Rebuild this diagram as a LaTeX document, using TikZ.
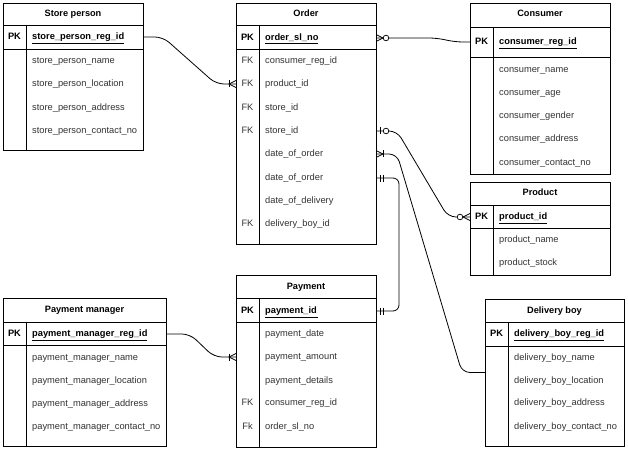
\documentclass[tikz,border=0pt]{standalone}
\usepackage{fontspec}
\setmainfont{Liberation Sans}
\usetikzlibrary{calc}
\tikzset{
  ent/.style={draw, line width=0.8pt, inner sep=0pt, outer sep=0pt, anchor=north west},
  sepl/.style={line width=0.8pt},
  ttl/.style={font=\bfseries\fontsize{9.2}{10}\selectfont, inner sep=0pt, text height=6.5pt, text depth=2pt},
  fld/.style={font=\fontsize{9.3}{10}\selectfont, text=black!80, anchor=west, inner sep=0pt, text height=6.5pt, text depth=1.6pt},
  pkf/.style={fld, font=\bfseries\fontsize{9.3}{10}\selectfont, text=black},
  keyt/.style={font=\fontsize{9.3}{10}\selectfont, text=black!80, inner sep=0pt, text height=6.5pt, text depth=1.6pt},
  pkkey/.style={keyt, font=\bfseries\fontsize{9.3}{10}\selectfont, text=black},
  conn/.style={line width=0.8pt, rounded corners=8pt},
  mk/.style={line width=0.75pt},
  oneMany/.pic={\draw[mk] (0,-3.5)--(7,0)--(0,3.5); \draw[mk] (7,-3.5)--(7,3.5);},
  zeroMany/.pic={\draw[mk] (0,-3.5)--(7,0)--(0,3.5); \draw[mk,fill=white] (10,0) circle[radius=2.8pt];},
  zeroOne/.pic={\draw[mk] (4,-3.5)--(4,3.5); \draw[mk,fill=white] (10,0) circle[radius=2.8pt];},
  mandOne/.pic={\draw[mk] (4,-3.5)--(4,3.5); \draw[mk] (7.5,-3.5)--(7.5,3.5);}
}
\begin{document}
\begin{tikzpicture}[x=1pt,y=-1pt]
\useasboundingbox (0,0) rectangle (628,449);
\fill[white] (0,0) rectangle (628,449);

% ---------- Store person ----------
\node[ent, minimum width=140pt, minimum height=147pt] (sp) at (3,3) {};
\draw[sepl] (3,25) -- (143,25);
\draw[sepl] (3,49) -- (143,49);
\draw[sepl] (26,25) -- (26,150);
\node[ttl] (sp-t) at (73,14) {Store person};
\node[pkkey] (sp-k) at (14.5,37) {PK};
\node[pkf] (sp-pk) at (32,37) {\underline{store\_person\_reg\_id}};
\node[fld] (sp-f1) at (32,61) {store\_person\_name};
\node[fld] (sp-f2) at (32,84) {store\_person\_location};
\node[fld] (sp-f3) at (32,108) {store\_person\_address};
\node[fld] (sp-f4) at (32,131) {store\_person\_contact\_no};

% ---------- Order ----------
\node[ent, minimum width=140pt, minimum height=241pt] (order) at (236,3) {};
\draw[sepl] (236,25) -- (376,25);
\draw[sepl] (236,49) -- (376,49);
\draw[sepl] (259,25) -- (259,244);
\node[ttl] (order-t) at (306,14) {Order};
\node[pkkey] (order-k) at (247.5,38) {PK};
\node[pkf] (order-pk) at (265,38) {\underline{order\_sl\_no}};
\node[keyt] (order-k1) at (247.5,61) {FK};
\node[fld] (order-f1) at (265,61) {consumer\_reg\_id};
\node[keyt] (order-k2) at (247.5,84) {FK};
\node[fld] (order-f2) at (265,84) {product\_id};
\node[keyt] (order-k3) at (247.5,108) {FK};
\node[fld] (order-f3) at (265,108) {store\_id};
\node[keyt] (order-k4) at (247.5,131) {FK};
\node[fld] (order-f4) at (265,131) {store\_id};
\node[fld] (order-f5) at (265,154) {date\_of\_order};
\node[fld] (order-f6) at (265,178) {date\_of\_order};
\node[fld] (order-f7) at (265,201) {date\_of\_delivery};
\node[keyt] (order-k8) at (247.5,224) {FK};
\node[fld] (order-f8) at (265,224) {delivery\_boy\_id};

% ---------- Consumer ----------
\node[ent, minimum width=140pt, minimum height=171pt] (cons) at (470,3) {};
\draw[sepl] (470,27) -- (610,27);
\draw[sepl] (470,57) -- (610,57);
\draw[sepl] (493,27) -- (493,174);
\node[ttl] (cons-t) at (540,14) {Consumer};
\node[pkkey] (cons-k) at (481.5,42) {PK};
\node[pkf] (cons-pk) at (499,42) {\underline{consumer\_reg\_id}};
\node[fld] (cons-f1) at (499,70) {consumer\_name};
\node[fld] (cons-f2) at (499,93) {consumer\_age};
\node[fld] (cons-f3) at (499,116) {consumer\_gender};
\node[fld] (cons-f4) at (499,139) {consumer\_address};
\node[fld] (cons-f5) at (499,163) {consumer\_contact\_no};

% ---------- Product ----------
\node[ent, minimum width=140pt, minimum height=93pt] (prod) at (470,182) {};
\draw[sepl] (470,205) -- (610,205);
\draw[sepl] (470,228) -- (610,228);
\draw[sepl] (493,205) -- (493,275);
\node[ttl] (prod-t) at (540,193) {Product};
\node[pkkey] (prod-k) at (481.5,217) {PK};
\node[pkf] (prod-pk) at (499,217) {\underline{product\_id}};
\node[fld] (prod-f1) at (499,240) {product\_name};
\node[fld] (prod-f2) at (499,263) {product\_stock};

% ---------- Payment manager ----------
\node[ent, minimum width=163pt, minimum height=148pt] (pm) at (3,298) {};
\draw[sepl] (3,322) -- (166,322);
\draw[sepl] (3,345) -- (166,345);
\draw[sepl] (26,322) -- (26,446);
\node[ttl] (pm-t) at (84.5,310) {Payment manager};
\node[pkkey] (pm-k) at (14.5,334) {PK};
\node[pkf] (pm-pk) at (32,334) {\underline{payment\_manager\_reg\_id}};
\node[fld] (pm-f1) at (32,358) {payment\_manager\_name};
\node[fld] (pm-f2) at (32,381) {payment\_manager\_location};
\node[fld] (pm-f3) at (32,404) {payment\_manager\_address};
\node[fld] (pm-f4) at (32,427) {payment\_manager\_contact\_no};

% ---------- Payment ----------
\node[ent, minimum width=140pt, minimum height=172pt] (pay) at (236,275) {};
\draw[sepl] (236,298) -- (376,298);
\draw[sepl] (236,322) -- (376,322);
\draw[sepl] (259,298) -- (259,447);
\node[ttl] (pay-t) at (306,287) {Payment};
\node[pkkey] (pay-k) at (247.5,311) {PK};
\node[pkf] (pay-pk) at (265,311) {\underline{payment\_id\,}};
\node[fld] (pay-f1) at (265,334) {payment\_date};
\node[fld] (pay-f2) at (265,357) {payment\_amount};
\node[fld] (pay-f3) at (265,381) {payment\_details};
\node[keyt] (pay-k4) at (247.5,403) {FK};
\node[fld] (pay-f4) at (265,403) {consumer\_reg\_id};
\node[keyt] (pay-k5) at (247.5,427) {Fk};
\node[fld] (pay-f5) at (265,427) {order\_sl\_no};

% ---------- Delivery boy ----------
\node[ent, minimum width=139pt, minimum height=147pt] (db) at (485,299) {};
\draw[sepl] (485,322) -- (624,322);
\draw[sepl] (485,346) -- (624,346);
\draw[sepl] (508,322) -- (508,446);
\node[ttl] (db-t) at (554.5,311) {Delivery boy};
\node[pkkey] (db-k) at (496.5,334) {PK};
\node[pkf] (db-pk) at (514,334) {\underline{delivery\_boy\_reg\_id}};
\node[fld] (db-f1) at (514,358) {delivery\_boy\_name};
\node[fld] (db-f2) at (514,381) {delivery\_boy\_location};
\node[fld] (db-f3) at (514,403) {delivery\_boy\_address};
\node[fld] (db-f4) at (514,427) {delivery\_boy\_contact\_no};

% ---------- Connectors ----------
\draw[conn] (sp.east |- sp-pk) -- ++(20,0) -- ($(order.west |- order-f2)+(-20,0)$) -- (order.west |- order-f2);
\draw[conn] (order.east |- order-pk) -- ++(61,0) -- ($(cons.west |- cons-pk)+(-15,0)$) -- (cons.west |- cons-pk);
\draw[conn] (order.east |- order-f4) -- ++(21,0) -- ($(prod.west |- prod-pk)+(-22,0)$) -- (prod.west |- prod-pk);
\draw[conn] (order.east |- order-f5) -- ++(21,0) -- ($(db.west)+(-23,0)$) -- (db.west);
\draw[conn, rounded corners=6pt] (order.east |- order-f6) -- ++(23,0) -- ($(pay.east |- pay-pk)+(23,0)$) -- (pay.east |- pay-pk);
\draw[conn] (pm.east |- pm-pk) -- ++(24,0) -- ($(pay.west |- pay-f2)+(-22,0)$) -- (pay.west |- pay-f2);

% ---------- Markers ----------
\pic[xscale=-1] at (order.west |- order-f2) {oneMany};
\pic at (order.east |- order-pk) {zeroMany};
\pic at (order.east |- order-f4) {zeroOne};
\pic[xscale=-1] at (prod.west |- prod-pk) {zeroMany};
\pic at (order.east |- order-f5) {oneMany};
\pic at (order.east |- order-f6) {mandOne};
\pic at (pay.east |- pay-pk) {mandOne};
\pic[xscale=-1] at (pay.west |- pay-f2) {oneMany};
\end{tikzpicture}
\end{document}
